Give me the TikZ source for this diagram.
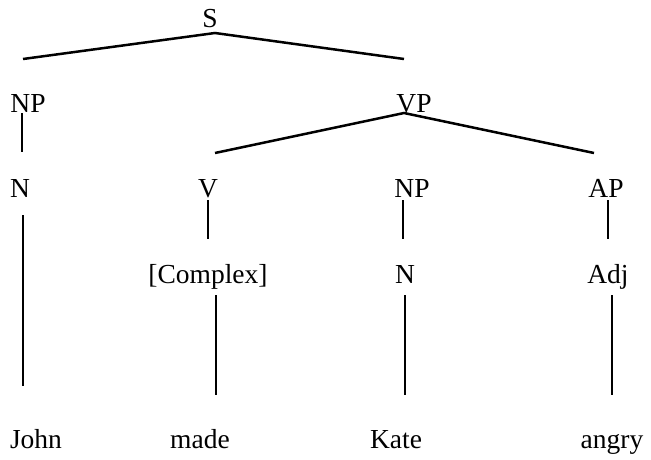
\documentclass[tikz,border=0pt]{standalone}
\usepackage{fontspec}
\setmainfont{Liberation Serif}
\begin{document}
\begin{tikzpicture}[x=1pt,y=-1pt,
  lbl/.style={inner sep=0pt,anchor=base,font=\fontsize{27.5}{33}\selectfont},
  branch/.style={line width=2.5pt,line cap=butt,line join=miter}]
\useasboundingbox (0,0) rectangle (651,460);
% labels
\node[lbl] (S) at (210,28) {S};
\node[lbl] (NPa) at (28,112) {NP};
\node[lbl] (VP) at (414,112) {VP};
\node[lbl] (Na) at (20,197) {N};
\node[lbl] (V) at (208,197) {V};
\node[lbl] (NPb) at (412,197) {NP};
\node[lbl] (AP) at (606,197) {AP};
\node[lbl] (Cx) at (208,283) {[Complex]};
\node[lbl] (Nb) at (405,283) {N};
\node[lbl] (Adj) at (608,283) {Adj};
\node[lbl] (John) at (36,448) {John};
\node[lbl] (made) at (200,448) {made};
\node[lbl] (Kate) at (396,448) {Kate};
\node[lbl] (angry) at (612,448) {angry};
% line end points
\coordinate (s-top) at (215,33);
\coordinate (s-l) at (23,59);
\coordinate (s-r) at (404,59);
\coordinate (npa-t) at (22,113);
\coordinate (npa-b) at (22,152);
\coordinate (vp-top) at (404,113);
\coordinate (vp-l) at (215,153);
\coordinate (vp-r) at (594,153);
\coordinate (na-t) at (23,215);
\coordinate (na-b) at (23,386);
\coordinate (v-t) at (208,200);
\coordinate (v-b) at (208,239);
\coordinate (npb-t) at (403,200);
\coordinate (npb-b) at (403,239);
\coordinate (ap-t) at (608,200);
\coordinate (ap-b) at (608,239);
\coordinate (cx-t) at (216,295);
\coordinate (cx-b) at (216,395);
\coordinate (nb-t) at (405,295);
\coordinate (nb-b) at (405,395);
\coordinate (adj-t) at (612,295);
\coordinate (adj-b) at (612,395);
% branches
\draw[branch] (s-l) -- (s-top) -- (s-r);
\draw[branch] (npa-t) -- (npa-b);
\draw[branch] (vp-l) -- (vp-top) -- (vp-r);
\draw[branch] (na-t) -- (na-b);
\draw[branch] (v-t) -- (v-b);
\draw[branch] (npb-t) -- (npb-b);
\draw[branch] (ap-t) -- (ap-b);
\draw[branch] (cx-t) -- (cx-b);
\draw[branch] (nb-t) -- (nb-b);
\draw[branch] (adj-t) -- (adj-b);
\end{tikzpicture}
\end{document}
